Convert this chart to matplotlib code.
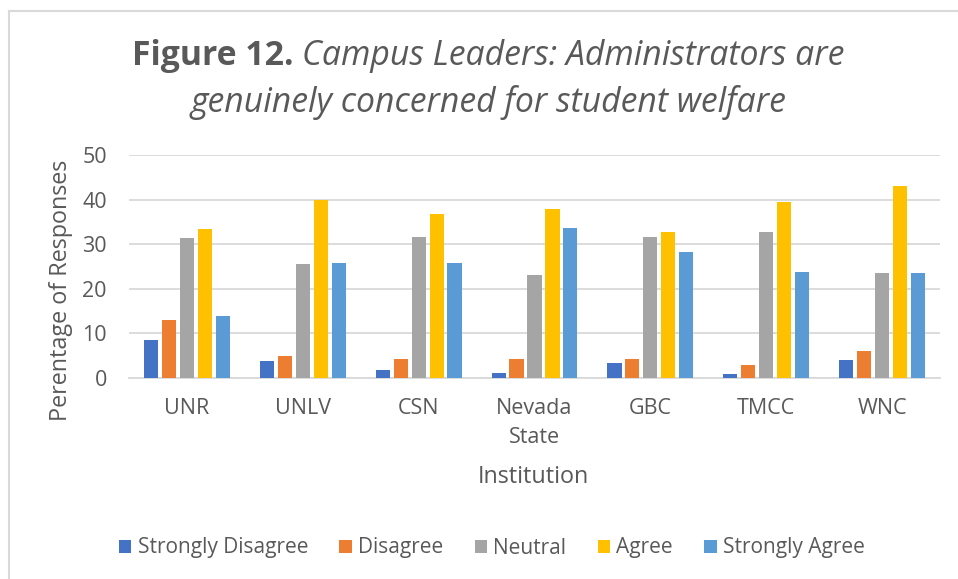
import matplotlib
matplotlib.use("Agg")
from matplotlib import pyplot as plt
from matplotlib.lines import Line2D
import numpy as np

# values (percent)
institutions = ["UNR", "UNLV", "CSN", "Nevada\nState", "GBC", "TMCC", "WNC"]
responses = ["Strongly Disagree", "Disagree", "Neutral", "Agree", "Strongly Agree"]
strongly_disagree = [8.4, 3.7, 1.7, 1.0, 3.3, 0.9, 3.9]
disagree = [12.9, 4.8, 4.3, 4.1, 4.3, 2.9, 5.9]
neutral = [31.4, 25.5, 31.5, 23.1, 31.5, 32.6, 23.4]
agree = [33.3, 40.0, 36.7, 37.9, 32.6, 39.5, 43.0]
strongly_agree = [13.8, 25.7, 25.7, 33.6, 28.3, 23.7, 23.4]

colors = ["#4472C4", "#ED7D31", "#A5A5A5", "#FFC000", "#5B9BD5"]
text_col = "#595959"
grid_col = "#D9D9D9"

plt.rcParams["font.family"] = ["Open Sans", "DejaVu Sans"]

W, H = 958, 579
fig = plt.figure(figsize=(W / 100, H / 100), dpi=100)
ax = fig.add_axes([129 / W, 1 - 377.7 / H, (940 - 129) / W, (377.7 - 155) / H])

series = [strongly_disagree, disagree, neutral, agree, strongly_agree]
x = np.arange(len(institutions))
pitch = 0.155
width = 0.122
for i, (name, vals) in enumerate(zip(responses, series)):
    ax.bar(x + (i - 2) * pitch, vals, width, color=colors[i], label=name, zorder=3)

ax.set_xlim(-0.5, len(institutions) - 0.5)
ax.set_ylim(0, 50)
ax.set_yticks(range(0, 51, 10))
ax.set_xticks(x)
ax.set_xticklabels(institutions, linespacing=1.5)
ax.grid(axis="y", color=grid_col, linewidth=1.3, zorder=0)
for side in ["top", "right", "left"]:
    ax.spines[side].set_visible(False)
ax.spines["bottom"].set_color(grid_col)
ax.spines["bottom"].set_linewidth(1.3)
ax.tick_params(axis="both", length=0, labelsize=15.5, labelcolor=text_col)
ax.tick_params(axis="x", pad=14.5)
ax.tick_params(axis="y", pad=16)

fig.text(61 / W, 1 - 290 / H, "Perentage of Responses", rotation=90,
         ha="center", va="center", fontsize=16.8, color=text_col)
fig.text(533 / W, 1 - 477 / H, "Institution", ha="center", va="center",
         fontsize=16.8, color=text_col)

# title: bold "Figure 12." followed by italic text
renderer = fig.canvas.get_renderer()
cx = 488 / W
y1 = 1 - 56 / H
y2 = 1 - 102 / H
tsize = 24.3
tb = fig.text(0, y1, "Figure 12.", fontsize=tsize, fontweight="bold",
              color=text_col, va="center", ha="left")
ti = fig.text(0, y1, "Campus Leaders: Administrators are", fontsize=tsize,
              style="italic", color=text_col, va="center", ha="left")
wb = tb.get_window_extent(renderer).width / W
wi = ti.get_window_extent(renderer).width / W
gap = 9 / W
x0 = cx - (wb + gap + wi) / 2
tb.set_x(x0)
ti.set_x(x0 + wb + gap)
fig.text(cx, y2, "genuinely concerned for student welfare", fontsize=tsize,
         style="italic", color=text_col, va="center", ha="center")

fig.legend(loc="center", bbox_to_anchor=(492 / W, 1 - 548 / H), ncol=5,
           frameon=False, fontsize=15, labelcolor=text_col,
           handlelength=0.6, handleheight=0.6, handletextpad=0.3,
           columnspacing=1.5)

# chart border (only left and top visible in the crop)
fig.add_artist(Line2D([9 / W, 9 / W], [0, 1 - 11 / H], color="#D9D9D9",
                      linewidth=1.5, transform=fig.transFigure))
fig.add_artist(Line2D([9 / W, 1], [1 - 11 / H, 1 - 11 / H], color="#D9D9D9",
                      linewidth=1.5, transform=fig.transFigure))

fig.savefig("out.png", dpi=100)
